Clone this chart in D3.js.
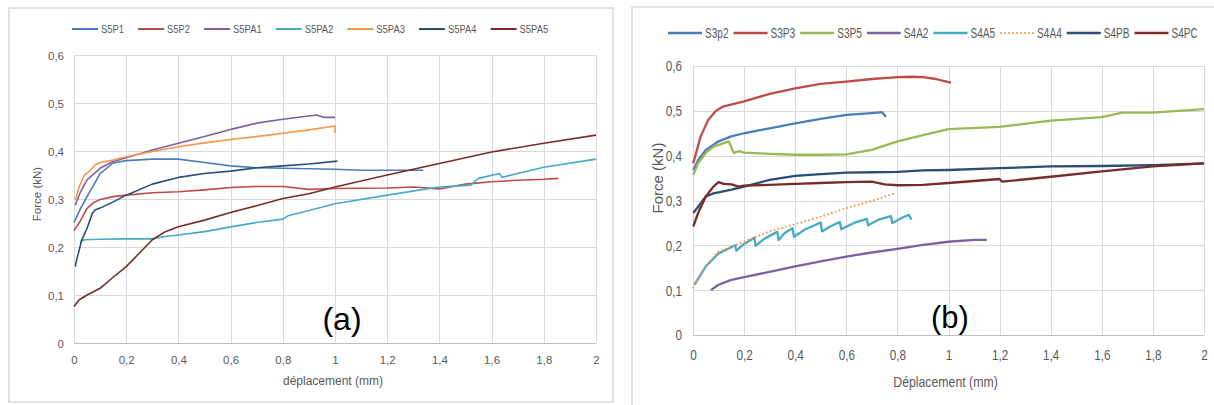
<!DOCTYPE html>
<html lang="fr">
<head>
<meta charset="UTF-8">
<title>Force - déplacement</title>
<style>
  body { margin: 0; background: #fff; }
  svg { display: block; }
  .grid line { stroke: #d9d9d9; stroke-width: 1; shape-rendering: crispEdges; }
  .axis path { display: none; }
  .axis line { display: none; }
  .axis text { fill: #595959; }
  .frame { fill: none; stroke: #d9d9d9; stroke-width: 1.5; }
</style>
</head>
<body>
<svg id="chart" width="1214" height="405"></svg>
<script src="https://cdn.jsdelivr.net/npm/d3@7"></script>
<script>
// ---- panel (a) data : [déplacement (mm), force (kN)]
const namesA = ["S5P1", "S5P2", "S5PA1", "S5PA2", "S5PA3", "S5PA4", "S5PA5"];
const s5p1 = [[0,0.251],[0.025,0.28],[0.05,0.305],[0.1,0.353],[0.15,0.375],[0.2,0.38],[0.3,0.383],[0.4,0.383],[0.5,0.376],[0.6,0.369],[0.7,0.365],[0.8,0.364],[0.9,0.363],[1.0,0.362],[1.1,0.36],[1.338,0.36]];
const s5p2 = [[0,0.234],[0.023,0.253],[0.049,0.28],[0.074,0.292],[0.1,0.299],[0.15,0.305],[0.2,0.308],[0.3,0.313],[0.4,0.315],[0.5,0.319],[0.6,0.324],[0.7,0.326],[0.8,0.326],[0.9,0.32],[1.0,0.322],[1.2,0.323],[1.3,0.325],[1.4,0.321],[1.5,0.331],[1.6,0.336],[1.7,0.339],[1.8,0.341],[1.856,0.343]];
const s5pa1 = [[0.005,0.287],[0.025,0.315],[0.05,0.34],[0.1,0.364],[0.15,0.378],[0.2,0.386],[0.3,0.402],[0.4,0.416],[0.5,0.43],[0.6,0.445],[0.7,0.458],[0.8,0.466],[0.9,0.473],[0.93,0.475],[0.96,0.47],[1.0,0.47]];
const s5pa2 = [[0.023,0.211],[0.04,0.215],[0.1,0.216],[0.2,0.217],[0.3,0.217],[0.35,0.222],[0.4,0.225],[0.5,0.232],[0.6,0.242],[0.7,0.251],[0.8,0.258],[0.82,0.265],[0.9,0.276],[1.0,0.29],[1.2,0.308],[1.4,0.325],[1.52,0.329],[1.55,0.343],[1.63,0.353],[1.64,0.345],[1.7,0.353],[1.8,0.366],[2.0,0.383]];
const s5pa3 = [[0.005,0.298],[0.02,0.326],[0.04,0.35],[0.06,0.358],[0.08,0.371],[0.1,0.376],[0.15,0.381],[0.2,0.388],[0.3,0.399],[0.4,0.409],[0.5,0.417],[0.6,0.424],[0.7,0.43],[0.8,0.437],[0.9,0.444],[1.0,0.452],[1.0,0.438]];
const s5pa4 = [[0.005,0.159],[0.01,0.173],[0.02,0.194],[0.03,0.215],[0.05,0.239],[0.07,0.27],[0.08,0.277],[0.1,0.281],[0.15,0.294],[0.2,0.308],[0.3,0.331],[0.4,0.345],[0.5,0.353],[0.6,0.358],[0.7,0.365],[0.8,0.369],[0.9,0.373],[1.009,0.379]];
const s5pa5 = [[0,0.076],[0.02,0.09],[0.05,0.1],[0.1,0.114],[0.15,0.137],[0.2,0.159],[0.25,0.187],[0.3,0.215],[0.35,0.232],[0.4,0.242],[0.5,0.256],[0.6,0.272],[0.7,0.286],[0.8,0.301],[0.9,0.311],[1.0,0.325],[1.2,0.35],[1.4,0.374],[1.6,0.398],[1.8,0.416],[2.0,0.433]];

// ---- panel (b) data
const namesB = ["S3p2", "S3P3", "S3P5", "S4A2", "S4A5", "S4A4", "S4PB", "S4PC"];
const s3p2 = [[0.001,0.368],[0.02,0.39],[0.05,0.413],[0.1,0.432],[0.15,0.443],[0.2,0.45],[0.3,0.461],[0.4,0.472],[0.5,0.482],[0.6,0.491],[0.7,0.495],[0.74,0.497],[0.755,0.487]];
const s3p3 = [[0.001,0.383],[0.03,0.443],[0.06,0.48],[0.09,0.5],[0.12,0.51],[0.2,0.521],[0.3,0.538],[0.4,0.55],[0.5,0.56],[0.6,0.565],[0.7,0.571],[0.8,0.575],[0.86,0.576],[0.9,0.575],[0.95,0.571],[1.0,0.564],[1.01,0.563]];
const s3p5 = [[0.001,0.357],[0.02,0.383],[0.05,0.406],[0.08,0.42],[0.12,0.428],[0.14,0.432],[0.16,0.406],[0.18,0.41],[0.2,0.407],[0.3,0.404],[0.4,0.402],[0.5,0.402],[0.6,0.403],[0.7,0.413],[0.8,0.432],[0.9,0.446],[1.0,0.459],[1.2,0.464],[1.4,0.478],[1.6,0.486],[1.68,0.496],[1.8,0.496],[2.0,0.504]];
const s4a2 = [[0.07,0.1],[0.1,0.112],[0.15,0.123],[0.2,0.129],[0.3,0.141],[0.4,0.153],[0.5,0.164],[0.6,0.175],[0.7,0.184],[0.8,0.192],[0.9,0.201],[1.0,0.208],[1.1,0.212],[1.15,0.212]];
const s4a5 = [[0.005,0.112],[0.05,0.153],[0.1,0.182],[0.13,0.19],[0.165,0.2],[0.17,0.188],[0.2,0.203],[0.24,0.217],[0.245,0.199],[0.28,0.215],[0.33,0.23],[0.335,0.212],[0.36,0.228],[0.39,0.238],[0.395,0.219],[0.44,0.236],[0.5,0.251],[0.505,0.231],[0.54,0.243],[0.575,0.252],[0.58,0.236],[0.63,0.25],[0.68,0.259],[0.685,0.245],[0.73,0.258],[0.775,0.265],[0.78,0.25],[0.82,0.262],[0.845,0.268],[0.855,0.257]];
const s4a4 = [[0,0.104],[0.05,0.153],[0.1,0.186],[0.2,0.208],[0.3,0.231],[0.4,0.247],[0.5,0.264],[0.6,0.283],[0.7,0.299],[0.79,0.316]];
const s4pb = [[0.001,0.272],[0.02,0.286],[0.05,0.309],[0.08,0.316],[0.1,0.318],[0.15,0.324],[0.2,0.331],[0.3,0.346],[0.4,0.355],[0.5,0.359],[0.6,0.362],[0.7,0.363],[0.8,0.364],[0.9,0.367],[1.0,0.368],[1.2,0.372],[1.4,0.376],[1.6,0.377],[1.8,0.379],[2.0,0.383]];
const s4pc = [[0.001,0.242],[0.02,0.272],[0.05,0.309],[0.08,0.331],[0.1,0.341],[0.12,0.337],[0.15,0.336],[0.18,0.331],[0.2,0.333],[0.3,0.335],[0.4,0.337],[0.5,0.339],[0.6,0.341],[0.7,0.342],[0.75,0.336],[0.8,0.334],[0.9,0.335],[1.0,0.339],[1.2,0.348],[1.21,0.342],[1.4,0.353],[1.6,0.365],[1.8,0.376],[2.0,0.383]];

const xTicks = [0, 0.2, 0.4, 0.6, 0.8, 1, 1.2, 1.4, 1.6, 1.8, 2];
const yTicks = [0, 0.1, 0.2, 0.3, 0.4, 0.5, 0.6];

// styles
const colorsA = ["#4a7ebb", "#be4b48", "#7d60a0", "#46aac5", "#f79646", "#2c4d75", "#772c2a"];
const colorsB = ["#4a7ebb", "#be4b48", "#98b954", "#7d60a0", "#46aac5", "#f79646", "#2c4d75", "#772c2a"];
const FONT = "Liberation Sans, Arial, sans-serif";

const svg = d3.select("#chart");
const fmt = d => String(d).replace(".", ",");

svg.append("rect").attr("class", "frame").attr("x", 9).attr("y", 8).attr("width", 604).attr("height", 394);
svg.append("rect").attr("class", "frame").attr("x", 632).attr("y", 7).attr("width", 600).attr("height", 420);

function drawPanel(o) {
    const x = d3.scaleLinear().domain([0, 2]).range(o.xr);
    const y = d3.scaleLinear().domain([0, 0.6]).range(o.yr);
    const g = svg.append("g");

    // gridlines
    const grid = g.append("g").attr("class", "grid");
    grid.selectAll(".v").data(xTicks).join("line")
        .attr("x1", d => Math.round(x(d)) + 0.5).attr("x2", d => Math.round(x(d)) + 0.5)
        .attr("y1", o.yr[1]).attr("y2", o.yr[0]);
    grid.selectAll(".h").data(yTicks).join("line")
        .attr("x1", o.xr[0]).attr("x2", o.xr[1])
        .attr("y1", d => Math.round(y(d)) + 0.5).attr("y2", d => Math.round(y(d)) + 0.5);
    g.append("line").attr("x1", o.xr[0]).attr("x2", o.xr[1])
        .attr("y1", Math.round(y(0)) + 0.5).attr("y2", Math.round(y(0)) + 0.5)
        .attr("stroke", "#bfbfbf");

    // axes (tick text squeezed horizontally like the original)
    g.append("g").attr("class", "axis")
        .attr("transform", `translate(0,${o.yr[0] + o.xTickOff})`)
        .call(d3.axisBottom(x).tickValues(xTicks).tickFormat(fmt).tickSize(0))
        .selectAll("text").attr("dy", 0).attr("y", 0).attr("transform", `scale(${o.tickSx},1)`)
        .style("font-family", FONT).style("font-size", o.tickSize);
    g.append("g").attr("class", "axis")
        .attr("transform", `translate(${o.yTickX},0)`)
        .call(d3.axisLeft(y).tickValues(yTicks).tickFormat(fmt).tickSize(0))
        .selectAll("text").attr("x", 0).attr("dy", "0.35em").attr("transform", `scale(${o.tickSx},1)`)
        .style("font-family", FONT).style("font-size", o.tickSize);

    // series
    const line = d3.line().x(d => x(d[0])).y(d => y(d[1]));
    o.series.forEach((s, i) => {
        const p = g.append("path").datum(s).attr("d", line)
            .attr("fill", "none").attr("stroke", o.colors[i])
            .attr("stroke-width", o.lw).attr("stroke-linejoin", "round");
        if (o.dotted && o.dotted[i]) p.attr("stroke-dasharray", "1.6,2.4").attr("stroke-width", 2);
    });

    // axis titles
    g.append("text").attr("transform", `translate(${(o.xr[0] + o.xr[1]) / 2 + o.xTitleDx},${o.xTitleY}) scale(${o.xTitleSx},1)`)
        .attr("text-anchor", "middle").attr("fill", "#595959")
        .style("font-family", FONT).style("font-size", o.xTitleSize).text(o.xTitle);
    g.append("text").attr("transform", `translate(${o.yTitleX},${o.yTitleY}) rotate(-90)`)
        .attr("text-anchor", "middle").attr("fill", "#595959")
        .style("font-family", FONT).style("font-size", o.yTitleSize).text("Force (kN)");

    // panel label
    g.append("text").attr("x", o.label[0]).attr("y", o.label[1]).attr("text-anchor", "middle")
        .attr("fill", "#000").style("font-family", FONT)
        .style("font-size", o.labelSize).text(o.labelText);

    // legend
    const lg = g.append("g");
    let cx = o.legX;
    o.names.forEach((n, i) => {
        const ln = lg.append("line").attr("x1", cx).attr("x2", cx + o.legLine)
            .attr("y1", o.legY).attr("y2", o.legY)
            .attr("stroke", o.colors[i]).attr("stroke-width", o.legLw);
        if (o.dotted && o.dotted[i]) ln.attr("stroke-dasharray", "1.6,2.4").attr("stroke-width", 2);
        const t = lg.append("text")
            .attr("transform", `translate(${cx + o.legLine + 3},${o.legY + o.legDy}) scale(${o.legSx},1)`)
            .attr("fill", "#595959").style("font-family", FONT)
            .style("font-size", o.legSize).text(n);
        cx += o.legLine + 3 + t.node().getComputedTextLength() * o.legSx + o.legGap;
    });
}

drawPanel({
    xr: [74, 596], yr: [343, 55],
    series: [s5p1, s5p2, s5pa1, s5pa2, s5pa3, s5pa4, s5pa5],
    names: namesA, colors: colorsA, lw: 1.6,
    tickSize: "11.5px", tickSx: 1, xTickOff: 21, yTickX: 64,
    xTitle: "déplacement (mm)", xTitleDx: -2, xTitleY: 385, xTitleSize: "12px", xTitleSx: 1,
    yTitleX: 41, yTitleY: 194, yTitleSize: "11.5px",
    label: [342, 330], labelSize: "32px", labelText: "(a)",
    legX: 72, legY: 29, legDy: 4, legLine: 26, legLw: 2, legGap: 14, legSize: "11.5px", legSx: 0.82
});

drawPanel({
    xr: [693, 1204], yr: [335, 66],
    series: [s3p2, s3p3, s3p5, s4a2, s4a5, s4a4, s4pb, s4pc],
    names: namesB, colors: colorsB, lw: 2.3,
    dotted: [false, false, false, false, false, true, false, false],
    tickSize: "14px", tickSx: 0.84, xTickOff: 25, yTickX: 682,
    xTitle: "Déplacement (mm)", xTitleDx: -3, xTitleY: 387, xTitleSize: "15px", xTitleSx: 0.82,
    yTitleX: 663, yTitleY: 178, yTitleSize: "15px",
    label: [950, 328], labelSize: "31px", labelText: "(b)",
    legX: 668, legY: 33, legDy: 5, legLine: 34, legLw: 2.5, legGap: 5, legSize: "14px", legSx: 0.72
});
</script>
</body>
</html>
